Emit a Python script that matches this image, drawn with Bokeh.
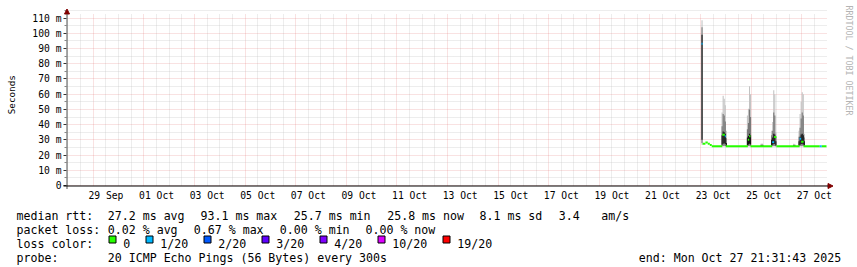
import math
import pandas as pd
from bokeh.plotting import figure
from bokeh.models import (FixedTicker, Grid, Label, Arrow, NormalHead, ColumnDataSource, Range1d)
from bokeh.embed import file_html
from bokeh.resources import INLINE

# ---------------- data ----------------
range_start = "2025-09-27 23:31:43"
range_end = "2025-10-27 23:31:43"

x_label_days = ["2025-09-29", "2025-10-01", "2025-10-03", "2025-10-05", "2025-10-07",
                "2025-10-09", "2025-10-11", "2025-10-13", "2025-10-15", "2025-10-17",
                "2025-10-19", "2025-10-21", "2025-10-23", "2025-10-25", "2025-10-27"]
x_labels = ["29 Sep", "01 Oct", "03 Oct", "05 Oct", "07 Oct", "09 Oct", "11 Oct", "13 Oct",
            "15 Oct", "17 Oct", "19 Oct", "21 Oct", "23 Oct", "25 Oct", "27 Oct"]
y_ticks = [0, 10, 20, 30, 40, 50, 60, 70, 80, 90, 100, 110]
y_labels = ["0", "10 m", "20 m", "30 m", "40 m", "50 m", "60 m", "70 m", "80 m",
            "90 m", "100 m", "110 m"]

# median rtt (ms) as runs: start, end, value, lost pings (of 20)
med_start = ["2025-10-23 00:57", "2025-10-23 01:57", "2025-10-23 04:40", "2025-10-23 06:55",
             "2025-10-23 08:50", "2025-10-23 10:40", "2025-10-23 20:40", "2025-10-23 23:05",
             "2025-10-24 00:00", "2025-10-24 20:55", "2025-10-24 22:10", "2025-10-24 23:25",
             "2025-10-25 20:00", "2025-10-25 21:50", "2025-10-26 00:00", "2025-10-26 22:00",
             "2025-10-26 23:30", "2025-10-27 01:45", "2025-10-27 17:10", "2025-10-27 19:05"]
med_end = ["2025-10-23 01:57", "2025-10-23 04:40", "2025-10-23 06:55", "2025-10-23 08:50",
           "2025-10-23 10:40", "2025-10-23 20:40", "2025-10-23 23:05", "2025-10-24 00:00",
           "2025-10-24 20:55", "2025-10-24 22:10", "2025-10-24 23:25", "2025-10-25 20:00",
           "2025-10-25 21:50", "2025-10-26 00:00", "2025-10-26 22:00", "2025-10-26 23:30",
           "2025-10-27 01:45", "2025-10-27 17:10", "2025-10-27 19:05", "2025-10-27 23:31:43"]
med_value = [93.1, 27.4, 28.3, 27.4, 26.6, 25.8, 33.3, 32.3, 25.8, 30.1,
             32.3, 25.8, 28.5, 31.8, 25.8, 30.7, 28.7, 25.8, 25.8, 25.8]
med_loss = [1, 0, 0, 0, 0, 0, 0, 1, 0, 0, 0, 0, 1, 0, 0, 1, 0, 0, 1, 0]

# smoke: hourly ping distribution (ms)
smoke_time = ["2025-10-23 00:57",
              "2025-10-23 20:00", "2025-10-23 21:00", "2025-10-23 22:00", "2025-10-23 23:00",
              "2025-10-24 00:00",
              "2025-10-24 20:00", "2025-10-24 21:00", "2025-10-24 22:00", "2025-10-24 23:00",
              "2025-10-25 09:00", "2025-10-25 10:00", "2025-10-25 11:00",
              "2025-10-25 19:00", "2025-10-25 20:00", "2025-10-25 21:00", "2025-10-25 22:00",
              "2025-10-25 23:00",
              "2025-10-26 16:00", "2025-10-26 17:00",
              "2025-10-26 21:00", "2025-10-26 22:00", "2025-10-26 23:00", "2025-10-27 00:00",
              "2025-10-27 01:00", "2025-10-27 02:00"]
smoke_min = [26.8, 25.6, 25.6, 25.7, 25.6, 25.5, 25.6, 25.6, 25.7, 25.6, 25.5, 25.5, 25.5,
             25.6, 25.6, 25.7, 25.6, 25.5, 25.5, 25.5, 25.6, 25.6, 25.7, 25.7, 25.6, 25.5]
smoke_p10 = [28.0, 25.9, 26.0, 26.1, 26.0, 25.7, 25.9, 26.0, 26.1, 26.0, 25.6, 25.6, 25.6,
             25.8, 25.9, 26.1, 26.0, 25.8, 25.6, 25.6, 25.8, 25.9, 26.0, 26.1, 26.0, 25.8]
smoke_p25 = [30.0, 26.8, 27.5, 27.8, 27.2, 26.0, 26.5, 27.0, 27.5, 27.0, 25.7, 25.7, 25.7,
             26.3, 26.8, 27.5, 27.2, 26.2, 25.7, 25.7, 26.2, 26.8, 27.2, 27.5, 27.0, 26.2]
smoke_p75 = [99.0, 33.0, 35.5, 35.0, 34.0, 28.0, 31.5, 32.5, 34.0, 33.0, 26.2, 26.3, 26.0,
             30.0, 31.5, 34.0, 33.5, 29.0, 26.2, 26.1, 29.0, 32.0, 33.5, 34.0, 33.0, 29.0]
smoke_p90 = [104.0, 39.0, 47.0, 46.0, 42.0, 31.0, 37.0, 41.0, 50.0, 45.0, 26.8, 27.0, 26.5,
             33.0, 36.0, 48.0, 46.0, 32.0, 26.8, 26.6, 32.0, 38.0, 44.0, 48.0, 46.0, 31.5]
smoke_max = [108.5, 48.0, 59.0, 57.0, 52.7, 36.0, 46.0, 50.5, 65.2, 60.0, 27.5, 27.6, 27.0,
             36.0, 41.7, 62.6, 60.0, 35.0, 27.4, 27.2, 36.0, 47.0, 55.0, 61.3, 60.0, 34.0]

loss_levels = [0, 1, 2, 3, 4, 10, 19]
loss_colors = ["#26ff00", "#00b8ff", "#0059ff", "#5e00ff", "#7e00ff", "#dd00ff", "#ff0000"]
loss_labels = ["0", "1/20", "2/20", "3/20", "4/20", "10/20", "19/20"]

rtt_items = ["median rtt:", "27.2 ms avg", "93.1 ms max", "25.7 ms min", "25.8 ms now",
             "8.1 ms sd", "3.4", "am/s"]
loss_items = ["packet loss:", "0.02 % avg", "0.67 % max", "0.00 % min", "0.00 % now"]
probe_items = ["probe:", "20 ICMP Echo Pings (56 Bytes) every 300s"]
loss_title = "loss color:"
end_text = "end: Mon Oct 27 21:31:43 2025"
y_title = "Seconds"
credit = "RRDTOOL / TOBI OETIKER"

# ---------------- helpers ----------------
EPOCH = pd.Timestamp("1970-01-01")
MS = pd.Timedelta(milliseconds=1)


def ms(values):
    return [float(v) for v in (pd.to_datetime(pd.Series(values), format="ISO8601") - EPOCH) / MS]


X0 = (pd.Timestamp(range_start) - EPOCH) / MS
X1 = (pd.Timestamp(range_end) - EPOCH) / MS
YMAX = 113.0
DL, DR, DT, DB = 67, 826, 13, 185     # data area in canvas px
PXMS = (DB - DT) / YMAX
W, H = 857, 267


def sx(px):
    return X0 + (px - DL) / (DR - DL) * (X1 - X0)


def sy(py):
    return (DB - py) / PXMS


MONO = "DejaVu Sans Mono"

# frame covers the whole canvas; axes are pinned at the data-area edges
p = figure(width=W, height=H,
           x_range=Range1d(sx(0), sx(W)), y_range=Range1d(sy(H), sy(0)),
           output_backend="svg", toolbar_location=None,
           min_border_left=0, min_border_right=0, min_border_top=0, min_border_bottom=0)
p.outline_line_color = None
p.background_fill_color = "white"
p.border_fill_color = "white"
p.grid.visible = False

# grids
day_ts = pd.to_datetime(pd.Series(x_label_days))
x_major = ms(day_ts)
half_days = pd.date_range(pd.Timestamp(range_start).ceil("12h"), pd.Timestamp(range_end), freq="12h")
x_minor = [v for v in ms(half_days) if v not in x_major]
y_minor = [v + 5 for v in y_ticks]

RED = "#e06060"
GRAY = "#bdbdbd"
xg = Grid(dimension=0, ticker=FixedTicker(ticks=x_major, minor_ticks=x_minor),
          bounds=(X0, X1), cross_bounds=(0, YMAX),
          grid_line_color=RED, grid_line_alpha=0.36, grid_line_dash="1 1",
          minor_grid_line_color=GRAY, minor_grid_line_alpha=0.55, minor_grid_line_dash="1 1")
yg = Grid(dimension=1, ticker=FixedTicker(ticks=y_ticks, minor_ticks=y_minor),
          bounds=(0, YMAX), cross_bounds=(X0, X1),
          grid_line_color=RED, grid_line_alpha=0.36, grid_line_dash="1 1",
          minor_grid_line_color=GRAY, minor_grid_line_alpha=0.55, minor_grid_line_dash="1 1")
p.add_layout(xg)
p.add_layout(yg)

# axes
x_label_pos = ms(day_ts + pd.Timedelta(hours=12))
p.xaxis.fixed_location = sy(189)
p.xaxis.bounds = (X0, X1)
p.xaxis.ticker = FixedTicker(ticks=x_label_pos)
p.xaxis.major_label_overrides = {float(k): v for k, v in zip(x_label_pos, x_labels)}
p.xaxis.major_tick_out = 0
p.xaxis.major_tick_in = 0
p.xaxis.minor_tick_out = 0
p.xaxis.minor_tick_in = 0
p.xaxis.major_tick_line_color = None
p.xaxis.minor_tick_line_color = None
p.xaxis.axis_line_color = None
p.xaxis.major_label_standoff = 0
p.xaxis.major_label_text_font = MONO
p.xaxis.major_label_text_font_size = "9.7px"
p.xaxis.major_label_text_color = "#000000"

p.yaxis.fixed_location = sx(66)
p.yaxis.ticker = FixedTicker(ticks=y_ticks, minor_ticks=y_minor)
p.yaxis.bounds = (0, YMAX)
p.yaxis.major_label_overrides = {k: v for k, v in zip(y_ticks, y_labels)}
p.yaxis.axis_line_color = None
p.yaxis.major_tick_out = 3
p.yaxis.major_tick_in = 0
p.yaxis.minor_tick_out = 2
p.yaxis.minor_tick_in = 0
p.yaxis.major_tick_line_color = "#333333"
p.yaxis.minor_tick_line_color = "#888888"
p.yaxis.major_label_standoff = 2
p.yaxis.major_label_text_font = MONO
p.yaxis.major_label_text_font_size = "9.7px"
p.yaxis.major_label_text_color = "#000000"

# smoke
st = ms(smoke_time)
hour = 3600 * 1000.0
smoke = ColumnDataSource(dict(left=st, right=[t + hour for t in st],
                              mn=smoke_min, p10=smoke_p10, p25=smoke_p25,
                              p75=smoke_p75, p90=smoke_p90, mx=smoke_max))
p.quad(left="left", right="right", bottom="mn", top="mx", source=smoke,
       fill_color="#c2c2c2", line_color=None)
p.quad(left="left", right="right", bottom="p10", top="p90", source=smoke,
       fill_color="#777777", line_color=None)
p.quad(left="left", right="right", bottom="p25", top="p75", source=smoke,
       fill_color="#111111", line_color=None)

# median line coloured by loss
half = 0.65
med = ColumnDataSource(dict(left=ms(med_start), right=ms(med_end),
                            bottom=[v - half for v in med_value],
                            top=[v + half for v in med_value],
                            color=[loss_colors[loss_levels.index(l)] for l in med_loss]))
p.quad(left="left", right="right", bottom="bottom", top="top", source=med,
       fill_color="color", line_color=None)

# axis lines with arrows
AR = "#800000"
p.add_layout(Arrow(x_start=sx(66.5), y_start=sy(188.5), x_end=sx(66.5), y_end=sy(8.5),
                   line_color="#505050", line_width=1,
                   end=NormalHead(size=5, fill_color=AR, line_color=AR)))
p.add_layout(Arrow(x_start=sx(63), y_start=sy(185.5), x_end=sx(832.5), y_end=sy(185.5),
                   line_color="#000000", line_width=1,
                   end=NormalHead(size=5, fill_color=AR, line_color=AR)))

# y title and credit
p.add_layout(Label(x=sx(10.8), y=sy(94.2), text=y_title, angle=math.pi / 2,
                   text_align="center", text_baseline="middle",
                   text_font=MONO, text_font_size="9.3px", text_color="#000000"))
p.add_layout(Label(x=sx(848), y=sy(5), text=credit, angle=-math.pi / 2,
                   text_align="left", text_baseline="middle",
                   text_font=MONO, text_font_size="8.3px", text_color="#b4b4b4"))


# ---------------- legend block below ----------------
def text(px, base, s):
    p.add_layout(Label(x=sx(px), y=sy(base), text=s, text_align="left",
                       text_baseline="alphabetic", text_font=MONO,
                       text_font_size="11.6px", text_color="#000000"))


for px, s in zip([16, 107.3, 200, 293.3, 386.7, 479, 558.3, 600.7], rtt_items):
    text(px, 215, s)
for px, s in zip([16, 107.3, 193.3, 279.3, 365], loss_items):
    text(px, 229, s)
text(16, 243, loss_title)
bx = 108.5
box_l, box_r = [], []
for lab in loss_labels:
    box_l.append(sx(bx))
    box_r.append(sx(bx + 7))
    tx = bx + 14.3
    text(tx, 243, lab)
    bx = round(tx + 7 * len(lab) + 15.5) + 0.5
p.quad(left=box_l, right=box_r, top=[sy(235.5)] * len(box_l), bottom=[sy(242.5)] * len(box_l),
       fill_color=loss_colors, line_color="#000000", line_width=1)
for px, s in zip([16, 107.3], probe_items):
    text(px, 257, s)
text(638.3, 257, end_text)

open("out.html", "w").write(file_html(p, INLINE))
